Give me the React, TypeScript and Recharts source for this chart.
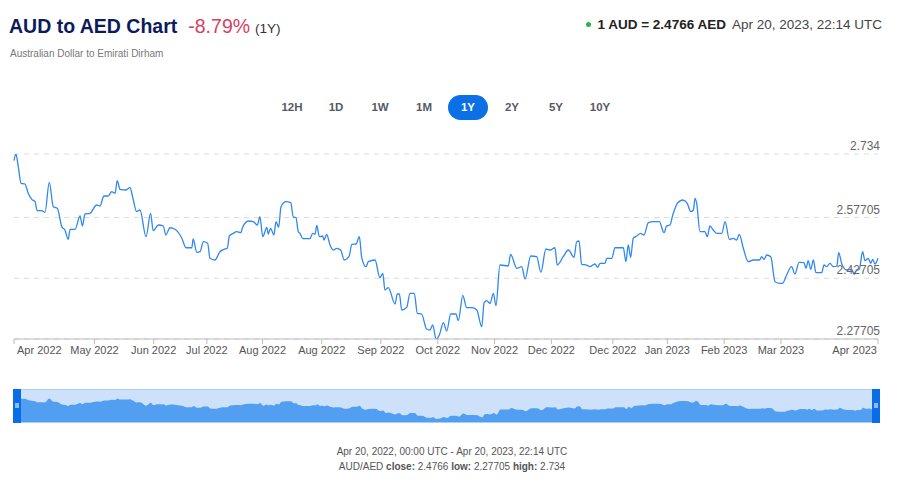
import { Area, AreaChart, CartesianGrid, Line, LineChart, XAxis, YAxis } from 'recharts';

// day offset from Apr 20, 2022 and AUD/AED rate
const days = [
    0, 0.8, 1.8, 3.0, 4.6, 6.0, 7.5, 8.9, 9.8, 11.7, 13.1, 14.9, 16.6, 18.3, 20.2, 21.5, 22.9, 23.7, 25.8, 27.9,
    28.9, 30.0, 32.1, 34.9, 36.3, 38.0, 39.8, 41.3, 42.7, 43.6, 44.8, 47.3, 49.0, 50.1, 51.8, 53.2, 55.8, 57.7, 58.8, 61.0,
    63.1, 64.1, 65.9, 68.0, 70.8, 72.7, 75.1, 75.7, 77.2, 78.6, 80.0, 81.8, 82.8, 84.9, 87.0, 88.7, 90.1, 91.0, 92.6, 94.1,
    95.8, 96.6, 99.0, 101.1, 102.8, 103.9, 105.1, 106.8, 107.4, 108.4, 109.8, 110.7, 111.8, 112.8, 114.9, 116.9, 118.0, 119.1, 120.1, 120.8,
    122.0, 125.0, 126.2, 127.2, 127.9, 129.0, 130.4, 131.0, 132.1, 133.5, 134.9, 136.3, 138.0, 139.5, 141.6, 142.7, 144.5, 145.9, 146.9, 148.7,
    149.7, 152.5, 154.6, 155.8, 156.7, 158.1, 161.0, 161.9, 162.8, 163.8, 165.9, 167.3, 169.1, 170.4, 172.2, 174.3, 175.7, 176.9, 178.3, 179.7,
    181.4, 182.8, 184.5, 186.7, 187.7, 189.6, 191.2, 193.4, 195.5, 197.6, 198.6, 199.7, 201.1, 202.5, 203.6, 205.3, 208.8, 209.8, 212.4, 214.5,
    215.9, 218.3, 220.8, 222.6, 224.7, 226.7, 228.5, 229.5, 232.0, 234.2, 236.6, 237.7, 238.7, 239.8, 241.9, 243.3, 245.4, 246.6, 247.6, 249.7,
    250.4, 252.5, 253.9, 257.4, 258.5, 259.5, 260.5, 261.6, 263.1, 264.7, 266.1, 268.0, 270.1, 272.6, 274.6, 275.7, 277.1, 278.3, 280.4, 282.5,
    284.4, 285.9, 287.0, 287.7, 288.4, 289.8, 291.9, 292.9, 294.0, 295.4, 296.9, 299.0, 300.4, 302.2, 303.9, 305.3, 306.4, 308.1, 310.2, 312.3,
    314.9, 315.9, 316.8, 318.0, 319.7, 321.5, 323.6, 324.7, 326.4, 328.5, 329.9, 331.7, 333.7, 334.6, 335.5, 336.6, 337.7, 338.8, 341.2, 342.2,
    343.3, 344.7, 346.1, 347.6, 348.4, 349.7, 351.8, 353.9, 354.9, 356.0, 357.1, 358.5, 359.5, 360.9, 361.9, 362.8, 363.7, 365,
];
const rates = [
    2.7174, 2.734, 2.7026, 2.6616, 2.6599, 2.6369, 2.6221, 2.6162, 2.5939, 2.5939, 2.59, 2.6641, 2.6038, 2.5999, 2.5544, 2.5463, 2.5233, 2.548, 2.548, 2.5809,
    2.5562, 2.5858, 2.5875, 2.608, 2.6056, 2.6303, 2.6303, 2.6409, 2.6369, 2.668, 2.6468, 2.6451, 2.6508, 2.6285, 2.5915, 2.5957, 2.5297, 2.5875, 2.5445, 2.5586,
    2.5562, 2.5339, 2.5519, 2.548, 2.5272, 2.5025, 2.5025, 2.524, 2.4912, 2.4927, 2.5174, 2.5134, 2.4764, 2.4722, 2.4927, 2.4986, 2.5011, 2.5315, 2.5381, 2.5421,
    2.5396, 2.5529, 2.5685, 2.5668, 2.5586, 2.5791, 2.5297, 2.5529, 2.5364, 2.5505, 2.5339, 2.5668, 2.5529, 2.6038, 2.6162, 2.6137, 2.5777, 2.5777, 2.5421, 2.5381,
    2.5248, 2.5248, 2.5381, 2.5357, 2.5579, 2.5297, 2.5315, 2.5216, 2.5357, 2.5092, 2.4969, 2.5011, 2.4969, 2.4722, 2.4821, 2.5109, 2.5117, 2.5297, 2.4779, 2.4556,
    2.468, 2.4722, 2.4284, 2.4393, 2.3981, 2.4038, 2.3635, 2.3882, 2.3882, 2.3487, 2.3553, 2.3899, 2.3899, 2.3405, 2.3388, 2.3017, 2.2993, 2.3116, 2.27705, 2.2869,
    2.3173, 2.2968, 2.3388, 2.3388, 2.3222, 2.385, 2.3544, 2.3544, 2.3487, 2.3074, 2.3667, 2.3716, 2.3652, 2.3899, 2.3593, 2.4598, 2.4574, 2.4862, 2.4517, 2.4556,
    2.4252, 2.4821, 2.4803, 2.4418, 2.4993, 2.4969, 2.5025, 2.4598, 2.4803, 2.4969, 2.4789, 2.5174, 2.5191, 2.4616, 2.4598, 2.4556, 2.4623, 2.4541, 2.464, 2.464,
    2.4764, 2.4764, 2.5025, 2.5025, 2.468, 2.5092, 2.4789, 2.5258, 2.5315, 2.5381, 2.5339, 2.5643, 2.5668, 2.5668, 2.5396, 2.5562, 2.5586, 2.5833, 2.6137, 2.6204,
    2.6122, 2.5915, 2.5957, 2.6245, 2.6122, 2.5421, 2.5421, 2.5297, 2.5562, 2.5463, 2.5381, 2.5381, 2.5668, 2.5233, 2.5258, 2.5216, 2.5357, 2.5011, 2.468, 2.4722,
    2.4722, 2.4803, 2.4739, 2.4845, 2.4803, 2.4186, 2.4146, 2.4146, 2.4351, 2.4556, 2.4376, 2.4665, 2.4655, 2.4517, 2.4704, 2.4492, 2.4722, 2.4408, 2.4408, 2.4598,
    2.4556, 2.464, 2.4556, 2.4574, 2.4902, 2.4623, 2.4475, 2.4492, 2.4368, 2.4475, 2.4492, 2.4927, 2.4704, 2.4764, 2.464, 2.4739, 2.4623, 2.4766,
];

const xTicks = [0, 34, 59, 81.5, 105, 130, 155, 179, 203, 227, 253, 276, 300, 324, 365];
const xTickLabels = [
    'Apr 2022', 'May 2022', 'Jun 2022', 'Jul 2022', 'Aug 2022', 'Aug 2022', 'Sep 2022', 'Oct 2022',
    'Nov 2022', 'Dec 2022', 'Dec 2022', 'Jan 2023', 'Feb 2023', 'Mar 2023', 'Apr 2023',
];
const yTicks = [2.27705, 2.42705, 2.57705, 2.734];
const ranges = ['12H', '1D', '1W', '1M', '1Y', '2Y', '5Y', '10Y'];
const activeRange = '1Y';

const font = '"Liberation Sans", Arial, sans-serif';
const W = 904;
const plotRight = 878;

const chartData = days.map((d, i) => ({ day: d, rate: rates[i] }));

function XTick({ x, y, payload, index }) {
    const last = index === xTicks.length - 1;
    const anchor = index === 0 ? 'start' : last ? 'end' : 'middle';
    const dx = index === 0 ? 3 : last ? -1 : 0;
    return (
        <text x={x + dx} y={y} dy="0.71em" textAnchor={anchor} fontSize={11} fill="#555" fontFamily={font}>
            {xTickLabels[index] ?? payload.value}
        </text>
    );
}

function YTick({ y, payload }) {
    return (
        <text x={plotRight + 2} y={y - 4} textAnchor="end" fontSize={12} fill="#666" fontFamily={font}>
            {payload.value}
        </text>
    );
}

export default function App() {
    return (
        <div style={{ position: 'absolute', left: 0, top: 0, width: W, height: 484, background: '#fff', fontFamily: font }}>
            <div style={{ position: 'absolute', left: 9, top: 17, lineHeight: '19px', whiteSpace: 'nowrap' }}>
                <span style={{ fontSize: 19.5, fontWeight: 'bold', color: '#0d1b5c' }}>AUD to AED Chart</span>
                <span style={{ fontSize: 19.5, color: '#d8415e', marginLeft: 11 }}>-8.79%</span>
                <span style={{ fontSize: 13.5, color: '#333', marginLeft: 5 }}>(1Y)</span>
            </div>
            <div style={{ position: 'absolute', left: 10, top: 49, fontSize: 10, lineHeight: '10px', color: '#777' }}>
                Australian Dollar to Emirati Dirham
            </div>

            <div style={{ position: 'absolute', right: 22, top: 18, fontSize: 13.5, lineHeight: '13px', whiteSpace: 'nowrap', display: 'flex', alignItems: 'center' }}>
                <span style={{ width: 5, height: 5, borderRadius: 3, background: '#2cb34a', marginRight: 6, display: 'inline-block' }} />
                <span style={{ fontWeight: 'bold', color: '#222' }}>1 AUD = 2.4766 AED</span>
                <span style={{ color: '#444', marginLeft: 6 }}>Apr 20, 2023, 22:14 UTC</span>
            </div>

            {ranges.map((r, i) => {
                const cx = 292 + i * 44;
                const active = r === activeRange;
                return (
                    <div
                        key={r}
                        style={{
                            position: 'absolute',
                            left: cx - 20,
                            top: 95,
                            width: 40,
                            height: 25,
                            borderRadius: 13,
                            background: active ? '#0b6fe6' : 'transparent',
                            color: active ? '#fff' : '#555b66',
                            fontSize: 11.5,
                            fontWeight: 'bold',
                            lineHeight: '25px',
                            textAlign: 'center',
                        }}
                    >
                        {r}
                    </div>
                );
            })}

            <div style={{ position: 'absolute', left: 0, top: 130 }}>
                <LineChart width={W} height={230} data={chartData} margin={{ top: 24, right: W - plotRight, left: 14, bottom: 0 }}>
                    <CartesianGrid vertical={false} stroke="#dcdcdc" strokeDasharray="5 5" />
                    <XAxis
                        dataKey="day"
                        type="number"
                        domain={[0, 365]}
                        ticks={xTicks}
                        interval={0}
                        height={21}
                        tickSize={5}
                        tick={<XTick />}
                        stroke="#bbb"
                    />
                    <YAxis
                        orientation="right"
                        mirror
                        domain={[yTicks[0], yTicks[yTicks.length - 1]]}
                        ticks={yTicks}
                        allowDataOverflow
                        axisLine={false}
                        tickLine={false}
                        tick={<YTick />}
                    />
                    <Line type="monotone" dataKey="rate" stroke="#2f87f0" strokeWidth={1.3} dot={false} isAnimationActive={false} />
                </LineChart>
            </div>

            <div style={{ position: 'absolute', left: 13, top: 389, width: 867, height: 34, background: '#cde2fa', boxSizing: 'border-box', border: '1px solid #a8cdf6' }}>
                <AreaChart width={865} height={32} data={chartData} margin={{ top: 0, right: 0, left: 0, bottom: 0 }}>
                    <XAxis dataKey="day" type="number" domain={[0, 365]} hide />
                    <YAxis domain={[2.222, 2.827]} hide allowDataOverflow />
                    <Area type="monotone" dataKey="rate" stroke="none" fill="#529ef0" fillOpacity={1} baseValue="dataMin" isAnimationActive={false} />
                </AreaChart>
            </div>
            <div style={{ position: 'absolute', left: 13, top: 389, width: 8, height: 34, background: '#0a6de8' }}>
                <div style={{ position: 'absolute', left: 2, top: 14, width: 4, height: 5, background: '#8dbaf2' }} />
            </div>
            <div style={{ position: 'absolute', left: 872, top: 389, width: 8, height: 34, background: '#0a6de8' }}>
                <div style={{ position: 'absolute', left: 2, top: 14, width: 4, height: 5, background: '#8dbaf2' }} />
            </div>

            <div style={{ position: 'absolute', left: 0, width: W, top: 447, fontSize: 10, lineHeight: '10px', color: '#555', textAlign: 'center' }}>
                Apr 20, 2022, 00:00 UTC - Apr 20, 2023, 22:14 UTC
            </div>
            <div style={{ position: 'absolute', left: 0, width: W, top: 462, fontSize: 10, lineHeight: '10px', color: '#555', textAlign: 'center' }}>
                AUD/AED <b>close:</b> 2.4766 <b>low:</b> 2.27705 <b>high:</b> 2.734
            </div>
        </div>
    );
}
